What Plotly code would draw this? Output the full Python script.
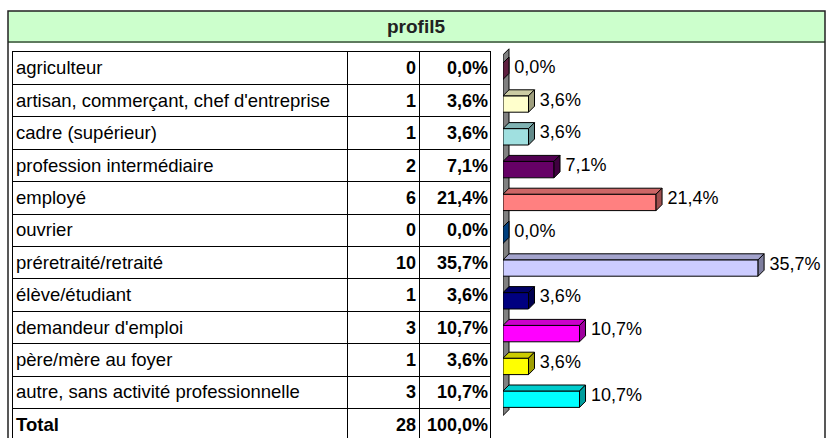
import plotly.graph_objects as go

categories = [
    "agriculteur",
    "artisan, commerçant, chef d'entreprise",
    "cadre (supérieur)",
    "profession intermédiaire",
    "employé",
    "ouvrier",
    "préretraité/retraité",
    "élève/étudiant",
    "demandeur d'emploi",
    "père/mère au foyer",
    "autre, sans activité professionnelle",
]
counts = [0, 1, 1, 2, 6, 0, 10, 1, 3, 1, 3]
bar_colors = ["#993366", "#FFFFCC", "#A0E0E0", "#660066", "#FF8080", "#0066CC",
              "#CCCCFF", "#000080", "#FF00FF", "#FFFF00", "#00FFFF"]
title = "profil5"

total = sum(counts)
pcts = [c / total * 100 for c in counts]


def fmt(p):
    return f"{p:.1f}".replace(".", ",") + "%"


def shade(hex_color, f):
    h = hex_color.lstrip("#")
    r, g, b = (int(h[i:i + 2], 16) for i in (0, 2, 4))
    return f"rgb({int(r * f)},{int(g * f)},{int(b * f)})"


W, H = 828, 438
FONT = "Liberation Sans, Arial, sans-serif"


def px(x):
    return x / W


def py(y):
    return 1 - y / H


# table geometry (pixels)
TBL_LEFT, TBL_RIGHT, TBL_TOP, ROW_H = 13, 490, 52, 32.4
COL1, COL2 = 347, 419
tbl_w = TBL_RIGHT - TBL_LEFT

# bar chart geometry
BAR_LEFT = 503
XMAX = 45.5
ppx = (W - BAR_LEFT) / XMAX
BAR_TOP0, BAR_STEP = 71.2, 32.8
DEPTH = 6
dx = DEPTH / ppx
dy = DEPTH / BAR_STEP

rows_lab = categories + ["<b>Total</b>"]
rows_cnt = [f"<b>{c}</b>" for c in counts] + [f"<b>{total}</b>"]
rows_pct = [f"<b>{fmt(p)}</b>" for p in pcts] + [f"<b>{fmt(100)}</b>"]
ks = list(range(len(rows_lab)))

fig = go.Figure()

tfont = dict(family=FONT, size=18, color="black")
fig.add_trace(go.Scatter(x=[3] * len(ks), y=[k + 0.05 for k in ks], text=rows_lab, mode="text",
                         textposition="middle right", textfont=dict(family=FONT, size=18.5, color="black"),
                         hoverinfo="skip", cliponaxis=False))
fig.add_trace(go.Scatter(x=[COL2 - TBL_LEFT - 3] * len(ks), y=[k + 0.05 for k in ks], text=rows_cnt,
                         mode="text", textposition="middle left", textfont=tfont,
                         hoverinfo="skip", cliponaxis=False))
fig.add_trace(go.Scatter(x=[tbl_w - 2] * len(ks), y=[k + 0.05 for k in ks], text=rows_pct,
                         mode="text", textposition="middle left", textfont=tfont,
                         hoverinfo="skip", cliponaxis=False))

# 3D faces of the bars
bk = list(range(len(categories)))
for k, v, col in zip(bk, pcts, bar_colors):
    t = k - 0.25
    b = k + 0.25
    fig.add_trace(go.Scatter(
        x=[0, v, v + dx, dx, 0], y=[t, t, t - dy, t - dy, t],
        fill="toself", fillcolor=shade(col, 0.8), mode="lines",
        line=dict(color="black", width=1), xaxis="x2", yaxis="y2", hoverinfo="skip"))
    fig.add_trace(go.Scatter(
        x=[v, v, v + dx, v + dx, v], y=[t, b, b - dy, t - dy, t],
        fill="toself", fillcolor=shade(col, 0.62), mode="lines",
        line=dict(color="black", width=1), xaxis="x2", yaxis="y2", hoverinfo="skip"))

fig.add_trace(go.Bar(x=pcts, y=bk, orientation="h", width=0.5,
                     marker=dict(color=bar_colors, line=dict(color="black", width=1)),
                     xaxis="x2", yaxis="y2", hoverinfo="skip"))

fig.add_trace(go.Scatter(x=[v + dx + 0.75 for v in pcts], y=[k - dy / 2 for k in bk],
                         text=[fmt(p) for p in pcts], mode="text", textposition="middle right",
                         textfont=dict(family=FONT, size=18, color="black"),
                         xaxis="x2", yaxis="y2", hoverinfo="skip", cliponaxis=False))

n = len(categories)
wall = (f"M 0,{-0.5} L {dx},{-0.5 - dy} L {dx},{n - 0.5 - dy} L 0,{n - 0.5} Z")

shapes = [
    dict(type="path", path=wall, xref="x2", yref="y2", layer="below",
         fillcolor="#808080", line=dict(color="black", width=1)),
    dict(type="rect", xref="paper", yref="paper", x0=px(8), x1=px(825), y0=py(42), y1=py(11),
         fillcolor="#CCFFCC", line=dict(width=0), layer="below"),
    dict(type="line", xref="paper", yref="paper", x0=px(8), x1=px(825), y0=py(42), y1=py(42),
         line=dict(color="#5E7A5E", width=2)),
    dict(type="rect", xref="paper", yref="paper", x0=px(8), x1=px(825), y0=-0.05, y1=py(11),
         line=dict(color="#222222", width=1.5)),
]

fig.update_layout(
    width=W, height=H,
    margin=dict(l=0, r=0, t=0, b=0),
    paper_bgcolor="white", plot_bgcolor="rgba(0,0,0,0)",
    showlegend=False,
    shapes=shapes,
    annotations=[dict(text=f"<b>{title}</b>", x=px(416), y=py(26.5), xref="paper", yref="paper",
                      xanchor="center", yanchor="middle", showarrow=False,
                      font=dict(family=FONT, size=19, color="#222222"))],
    xaxis=dict(domain=[px(TBL_LEFT), px(TBL_RIGHT)], range=[0, tbl_w], side="top",
               tickvals=[COL1 - TBL_LEFT, COL2 - TBL_LEFT], showgrid=True, gridcolor="black",
               gridwidth=1, showticklabels=False, ticks="", zeroline=False,
               showline=True, linecolor="black", linewidth=1, fixedrange=True),
    yaxis=dict(domain=[0, py(TBL_TOP)], range=[(H - TBL_TOP) / ROW_H - 0.5, -0.5],
               tick0=0.5, dtick=1, showgrid=True, gridcolor="black", gridwidth=1,
               showticklabels=False, ticks="", zeroline=False, showline=True, mirror=True,
               linecolor="black", linewidth=1, fixedrange=True),
    xaxis2=dict(domain=[px(BAR_LEFT), 1], range=[0, XMAX], visible=False, fixedrange=True),
    yaxis2=dict(domain=[0, 1], range=[(H - BAR_TOP0) / BAR_STEP, -BAR_TOP0 / BAR_STEP],
                anchor="x2", visible=False, fixedrange=True),
)

# the page's default body margin would push the figure 8px down and right
fig.write_html("out.html", config={"displayModeBar": False},
               post_script="document.body.style.margin='0';")
